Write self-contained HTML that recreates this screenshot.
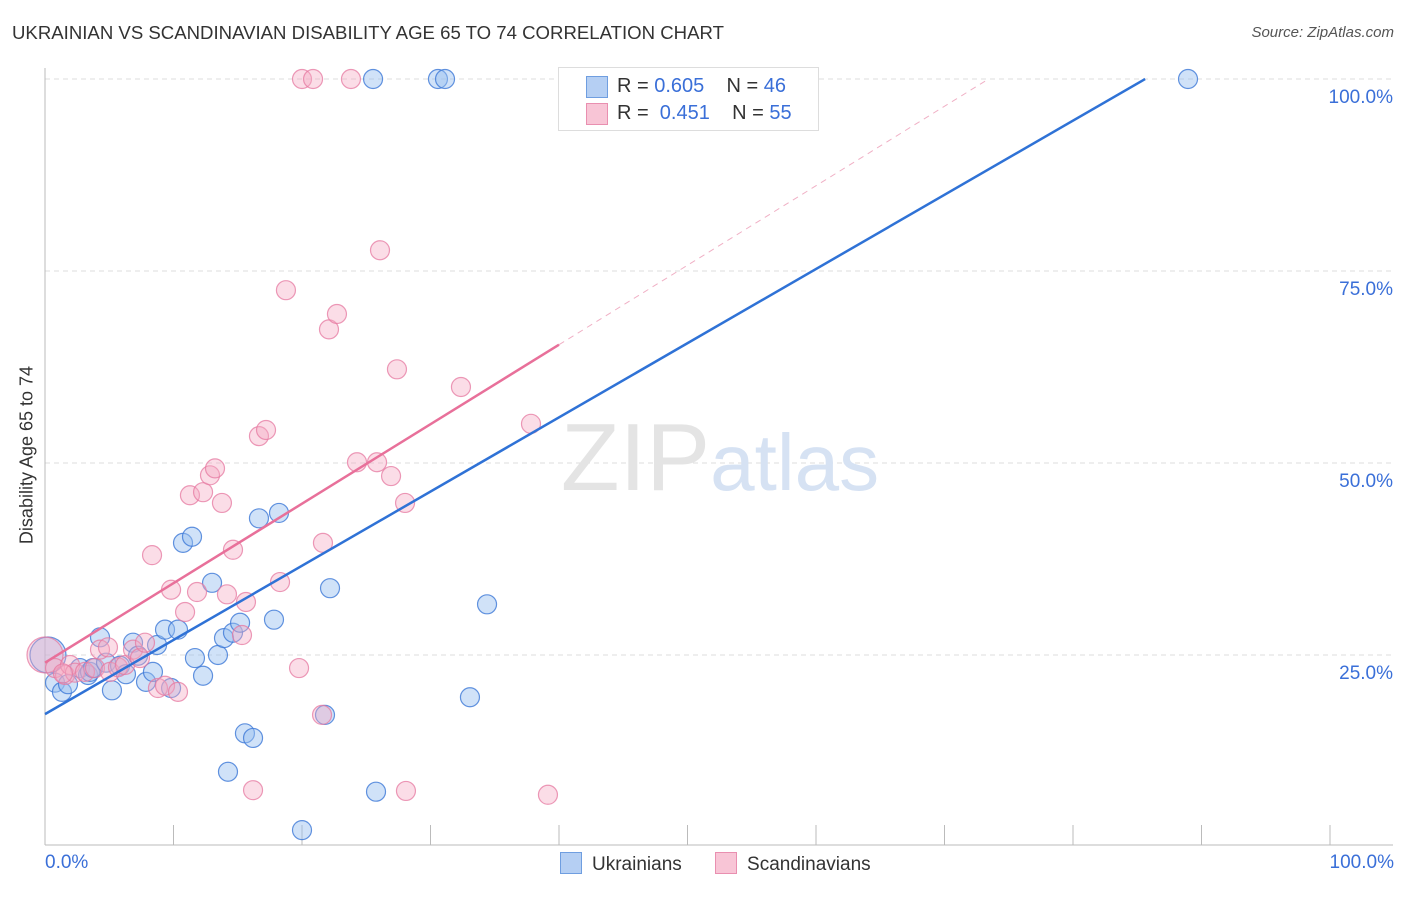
<!DOCTYPE html>
<html><head><meta charset="utf-8"><style>
body{margin:0;background:#fff;font-family:"Liberation Sans",sans-serif}
svg text{font-family:"Liberation Sans",sans-serif}
</style></head><body>
<svg id="c" width="1406" height="892"></svg>
<script>
const blueX=[0.78,1.32,1.79,2.72,3.35,3.50,3.74,4.28,4.75,5.21,5.84,6.30,6.85,7.24,7.86,8.40,8.72,9.34,9.81,10.35,10.74,11.44,11.67,12.30,13.0,13.46,13.93,14.24,14.63,15.18,15.56,16.19,16.65,17.82,18.21,20.0,21.79,22.18,25.53,25.76,30.58,31.13,33.07,34.4,88.95,0.23];
const blueY=[21.4,20.2,21.2,23.3,22.4,22.8,23.3,27.3,24.0,20.4,23.6,22.5,26.6,24.9,21.5,22.8,26.3,28.3,20.7,28.3,39.6,40.4,24.6,22.3,34.4,25.0,27.2,9.8,27.9,29.2,14.8,14.2,42.8,29.6,43.5,2.2,17.2,33.7,100,7.2,100,100,19.5,31.6,100,25.0];
const pinkX=[0,0.78,1.56,1.95,2.33,3.11,3.89,4.28,4.90,5.06,5.68,6.23,6.85,7.39,7.78,8.33,8.79,9.34,9.81,10.35,10.9,11.28,11.83,12.30,12.84,13.23,13.77,14.16,14.63,15.33,15.64,16.19,16.65,17.2,18.29,18.75,19.77,20.0,20.86,21.56,21.63,22.1,22.72,23.81,24.28,25.84,26.07,26.93,27.39,28.02,28.09,32.37,37.82,39.14,1.4];
const pinkY=[25.0,23.3,22.4,23.7,22.7,22.8,23.3,25.7,26.0,22.8,23.4,23.7,25.7,24.6,26.6,38.0,20.7,21.0,33.5,20.2,30.6,45.8,33.2,46.2,48.4,49.3,44.8,32.9,38.7,27.6,31.9,7.4,53.5,54.3,34.5,72.5,23.3,100,100,17.2,39.6,67.4,69.4,100,50.1,50.1,77.7,48.3,62.2,44.8,7.3,59.9,55.1,6.8,22.6];
const blueLine=[17.3,0.966], pinkLine=[24.0,1.035];
const NS="http://www.w3.org/2000/svg", svg=document.getElementById('c');
const X=v=>45+v*12.85, Y=v=>847-v*7.68;
function el(t,a,p){const e=document.createElementNS(NS,t);for(const k in a)e.setAttribute(k,a[k]);(p||svg).appendChild(e);return e;}
[25,50,75,100].forEach(v=>{const g=el('line',{x1:45,x2:1393,y1:Y(v),y2:Y(v),stroke:'#ddd','stroke-dasharray':'5,4'});


const t=el('text',{x:1393,y:Y(v)+24,'text-anchor':'end','font-size':19,fill:'#3a6fd8'});t.textContent=v.toFixed(1)+'%';

});
el('line',{x1:45,x2:45,y1:68,y2:845,stroke:'#bbb'});
el('line',{x1:45,x2:1393,y1:845,y2:845,stroke:'#bbb'});
for(let i=0;i<=10;i++){const tk=el('line',{x1:X(i*10),x2:X(i*10),y1:825,y2:845,stroke:'#bbb'});

}
const w=el('text',{x:720,y:490,'text-anchor':'middle','font-size':96,fill:'#e4e4e4','font-family':'Liberation Serif'});
w.innerHTML='ZIP<tspan fill="#d6e2f3" font-family="Liberation Sans" font-size="80">atlas</tspan>';


function dots(xs,ys,fill,stroke,name,bigIdx){xs.forEach((x,i)=>{const r=i===bigIdx?18:9.5;
const c=el('circle',{cx:X(x),cy:Y(ys[i]),r:r,fill:fill,stroke:stroke,'stroke-width':1.2});

});}
dots(blueX,blueY,'rgba(150,190,240,0.45)','rgba(60,120,215,0.8)','blue-point',45);
dots(pinkX,pinkY,'rgba(245,170,195,0.4)','rgba(230,120,160,0.75)','pink-point',0);
const bx2=(100-blueLine[0])/blueLine[1];
const bl=el('line',{x1:X(0),y1:Y(blueLine[0]),x2:X(bx2),y2:Y(100),stroke:'#2f72d6','stroke-width':2.5});


const pl=el('line',{x1:X(0),y1:Y(pinkLine[0]),x2:X(40),y2:Y(pinkLine[0]+40*pinkLine[1]),stroke:'#e8709a','stroke-width':2.5});


const px2=(100-pinkLine[0])/pinkLine[1];
const pd=el('line',{x1:X(40),y1:Y(pinkLine[0]+40*pinkLine[1]),x2:X(px2),y2:Y(100),stroke:'#f0b0c5','stroke-width':1,'stroke-dasharray':'6,5'});


</script>
<div style="position:absolute;left:12px;top:22px;font-size:18.6px;color:#333">UKRAINIAN VS SCANDINAVIAN DISABILITY AGE 65 TO 74 CORRELATION CHART</div>
<div style="position:absolute;right:12px;top:24px;font-size:15px;color:#555;font-style:italic">Source: ZipAtlas.com</div>
<div style="position:absolute;left:27px;top:455px;transform:translate(-50%,-50%) rotate(-90deg);font-size:18px;color:#333;white-space:nowrap">Disability Age 65 to 74</div>
<div style="position:absolute;left:45px;top:852px;font-size:19px;color:#3a6fd8">0.0%</div>
<div style="position:absolute;right:12px;top:852px;font-size:19px;color:#3a6fd8">100.0%</div>
<div style="position:absolute;left:558px;top:67px;width:259px;height:62px;border:1px solid #ddd;background:#fff;font-size:20px;color:#333">
 <div style="position:absolute;left:27px;top:8px;width:20px;height:20px;background:#b5cff3;border:1px solid #6f9ee0"></div>
 <div style="position:absolute;left:58px;top:7px">R = <span style="color:#3a6fd8">0.605</span>&nbsp;&nbsp;&nbsp; N = <span style="color:#3a6fd8">46</span></div>
 <div style="position:absolute;left:27px;top:35px;width:20px;height:20px;background:#f8c5d6;border:1px solid #e98fb0"></div>
 <div style="position:absolute;left:58px;top:34px">R = &nbsp;<span style="color:#3a6fd8">0.451</span>&nbsp;&nbsp;&nbsp; N = <span style="color:#3a6fd8">55</span></div>
</div>
<div style="position:absolute;left:560px;top:852px;font-size:19px;color:#333;white-space:nowrap">
 <span><span style="display:inline-block;width:20px;height:20px;background:#b5cff3;border:1px solid #6f9ee0;vertical-align:-4px;margin-right:10px"></span>Ukrainians</span>
 <span style="margin-left:28px"><span style="display:inline-block;width:20px;height:20px;background:#f8c5d6;border:1px solid #e98fb0;vertical-align:-4px;margin-right:10px"></span>Scandinavians</span>
</div>
</body></html>
